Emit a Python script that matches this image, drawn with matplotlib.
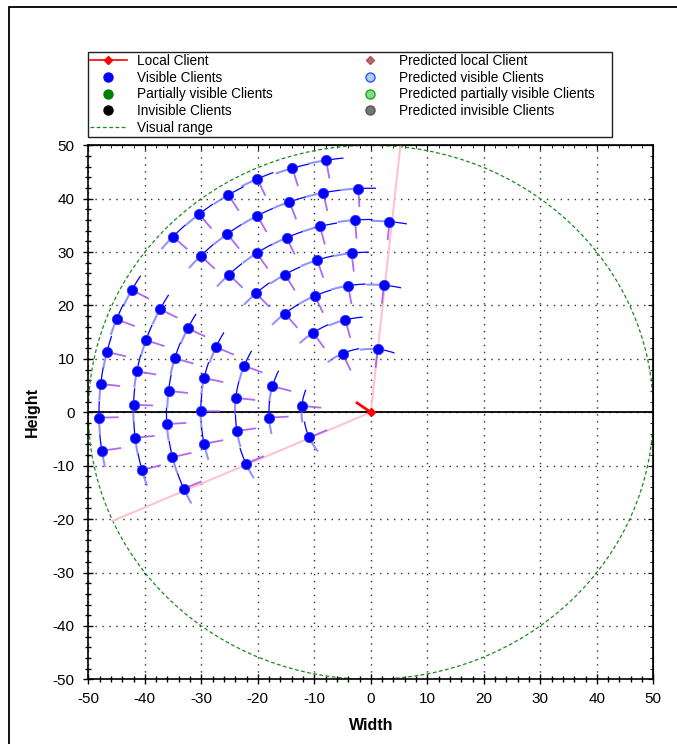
import numpy as np
import matplotlib
matplotlib.use("Agg")
import matplotlib.pyplot as plt
from matplotlib.lines import Line2D
from matplotlib.patches import Rectangle, Circle

plt.rcParams['font.family'] = ['Liberation Sans', 'DejaVu Sans']
plt.rcParams['axes.unicode_minus'] = False

# --- scene data -------------------------------------------------------------
local_client = (0.0, 0.0)
local_heading_deg = 144.0
field_of_view_deg = 120.0
visual_range = 50.0
heading_len = 3.0

# visible clients (x, y)
client_x = [
    -7.9, -13.9, -20.1, -25.2, -30.4, -35.0,
    -2.2, -8.4, -14.4, -20.1, -25.4, -30.1,
    3.3, -2.8, -9.0, -14.9, -20.2, -25.1,
    -3.4, -9.5, -15.2, -20.3,
    2.3, -4.0, -9.9, -15.2,
    -4.5, -10.2,
    1.2, -5.0,
    -42.3, -37.3, -45.0, -32.4, -39.8, -46.7, -27.4, -34.7, -41.4, -22.4,
    -29.5, -47.8, -35.8, -17.4, -23.9, -42.0, -12.2, -30.1, -48.1, -18.0,
    -36.1, -23.7, -41.7, -10.9, -29.5, -47.6, -35.1, -22.1, -40.5, -33.1,
]
client_y = [
    47.2, 45.7, 43.7, 40.7, 37.1, 32.9,
    41.9, 41.1, 39.4, 36.8, 33.4, 29.3,
    35.7, 36.0, 34.8, 32.7, 29.8, 25.8,
    29.8, 28.5, 25.8, 22.3,
    23.8, 23.7, 21.8, 18.5,
    17.3, 14.9,
    11.8, 11.0,
    22.9, 19.3, 17.4, 15.7, 13.5, 11.3, 12.2, 10.1, 7.7, 8.7,
    6.4, 5.3, 4.0, 4.9, 2.7, 1.4, 1.2, 0.2, -1.0, -1.0,
    -2.2, -3.5, -4.8, -4.7, -5.9, -7.2, -8.4, -9.6, -10.8, -14.3,
]
trail_half_len = 3.1     # arc length of path drawn on each side of a client
view_len = 3.3           # length of each client's view direction stroke

xticks = list(range(-50, 51, 10))
yticks = list(range(-50, 51, 10))

# --- figure -----------------------------------------------------------------
W, H = 677, 744
fig = plt.figure(figsize=(W / 100, H / 100), dpi=100)
fig.patches.append(Rectangle((9 / W, -0.05), 2.0, 1 - 7 / H + 0.05,
                             transform=fig.transFigure, fill=False,
                             edgecolor='black', linewidth=1.3))

ax = fig.add_axes([88.3 / W, 1 - 679.3 / H, 565 / W, 534 / H])
ax.set_xlim(-50, 50)
ax.set_ylim(-50, 50)

# visual range circle
ax.add_patch(Circle(local_client, visual_range, fill=False, edgecolor='#1a8a1a',
                    linestyle=(0, (3, 2)), linewidth=0.9, zorder=2))

# field of view boundaries
for side in (-1, 1):
    a = np.radians(local_heading_deg + side * field_of_view_deg / 2)
    ax.plot([local_client[0], local_client[0] + visual_range * np.cos(a)],
            [local_client[1], local_client[1] + visual_range * np.sin(a)],
            color='#ffc0cb', linewidth=1.4, zorder=3)

# clients: orbit path segment, view direction and marker
cx = np.array(client_x)
cy = np.array(client_y)
for x, y in zip(cx, cy):
    r = np.hypot(x, y)
    th = np.arctan2(y, x)
    d = trail_half_len / r
    t1 = np.linspace(th - d, th, 12)
    t2 = np.linspace(th, th + d, 12)
    ax.plot(r * np.cos(t1), r * np.sin(t1), color='#0000ff', linewidth=0.9,
            zorder=4, solid_capstyle='butt')
    ax.plot(r * np.cos(t2), r * np.sin(t2), color='#5a5aff', linewidth=1.5,
            alpha=0.65, zorder=4, solid_capstyle='butt')
    ux, uy = -x / r, -y / r
    ax.plot([x, x + view_len * ux], [y, y + view_len * uy], color='#a050f0',
            linewidth=1.3, alpha=0.85, zorder=5)
ax.plot(cx, cy, linestyle='none', marker='o', markersize=7.4,
        markerfacecolor='#0000ff', markeredgecolor='#3030ff',
        markeredgewidth=0.6, zorder=6)

# local client and its heading
ha = np.radians(local_heading_deg)
ax.plot([local_client[0], local_client[0] + heading_len * np.cos(ha)],
        [local_client[1], local_client[1] + heading_len * np.sin(ha)],
        color='#ff0000', linewidth=2.0, zorder=7)
ax.plot(*local_client, marker='D', markersize=4.5, color='#ff0000', zorder=8)

# zero line, grid and ticks
ax.axhline(0, color='black', linewidth=1.3, zorder=3)
ax.set_xticks(xticks)
ax.set_yticks(yticks)
ax.set_xticks(np.arange(-50, 51, 2), minor=True)
ax.set_yticks(np.arange(-50, 51, 2), minor=True)
ax.grid(True, which='major', color='#303030', linestyle=(0, (1, 4)),
        linewidth=1.0, zorder=1)
ax.set_axisbelow(True)
ax.tick_params(which='both', direction='inout', top=False, right=False,
               labelsize=11, width=1.0, colors='black')
ax.tick_params(axis='x', which='major', pad=6)
ax.tick_params(axis='y', which='major', pad=6.5)
ax.tick_params(which='major', length=7)
ax.tick_params(which='minor', length=4.5)
for s in ax.spines.values():
    s.set_linewidth(1.2)

top = ax.secondary_xaxis('top')
top.set_xticks(xticks)
top.set_xticks(np.arange(-50, 51, 2), minor=True)
top.tick_params(which='both', direction='in', labeltop=False)
top.tick_params(which='major', length=3.5)
top.tick_params(which='minor', length=2.5)
right = ax.secondary_yaxis('right')
right.set_yticks(yticks)
right.set_yticks(np.arange(-50, 51, 2), minor=True)
right.tick_params(which='both', direction='in', labelright=False)
right.tick_params(which='major', length=3.5)
right.tick_params(which='minor', length=2.5)

ax.set_xlabel('Width', fontsize=11.5, fontweight='bold', labelpad=8)
ax.set_ylabel('Height', fontsize=11.5, fontweight='bold', labelpad=9)

# --- legend -----------------------------------------------------------------
left_handles = [
    Line2D([], [], color='#ff0000', marker='D', markersize=4.5, linewidth=1.2),
    Line2D([], [], color='#0000ff', marker='o', linestyle='none', markersize=6.5),
    Line2D([], [], color='#008000', marker='o', linestyle='none', markersize=6.5),
    Line2D([], [], color='#000000', marker='o', linestyle='none', markersize=6.5),
    Line2D([], [], color='#1a8a1a', linestyle=(0, (3, 2)), linewidth=0.9),
]
left_labels = ['Local Client', 'Visible Clients', 'Partially visible Clients',
               'Invisible Clients', 'Visual range']
right_handles = [
    Line2D([], [], marker='D', linestyle='none', markersize=4.5,
           markerfacecolor='#808080', markeredgecolor='#e04040'),
    Line2D([], [], marker='o', linestyle='none', markersize=6.5,
           markerfacecolor='#a8d0f0', markeredgecolor='#3050ff'),
    Line2D([], [], marker='o', linestyle='none', markersize=6.5,
           markerfacecolor='#80e080', markeredgecolor='#20a020'),
    Line2D([], [], marker='o', linestyle='none', markersize=6.5,
           markerfacecolor='#707870', markeredgecolor='#505850'),
]
right_labels = ['Predicted local Client', 'Predicted visible Clients',
                'Predicted partially visible Clients', 'Predicted invisible Clients']

common = dict(frameon=False, fontsize=9.8, borderpad=0, borderaxespad=0,
              handlelength=2.7, handletextpad=0.75, labelspacing=0.2,
              loc='upper left')
fig.legend(left_handles, left_labels, bbox_to_anchor=(90 / W, 1 - 54 / H), **common)
fig.legend(right_handles, right_labels, bbox_to_anchor=(352 / W, 1 - 54 / H), **common)
fig.patches.append(Rectangle((88 / W, 1 - 137 / H), (612 - 88) / W, 85 / H,
                             transform=fig.transFigure, fill=False,
                             edgecolor='#202020', linewidth=1.0))

fig.savefig('out.png', dpi=100)
